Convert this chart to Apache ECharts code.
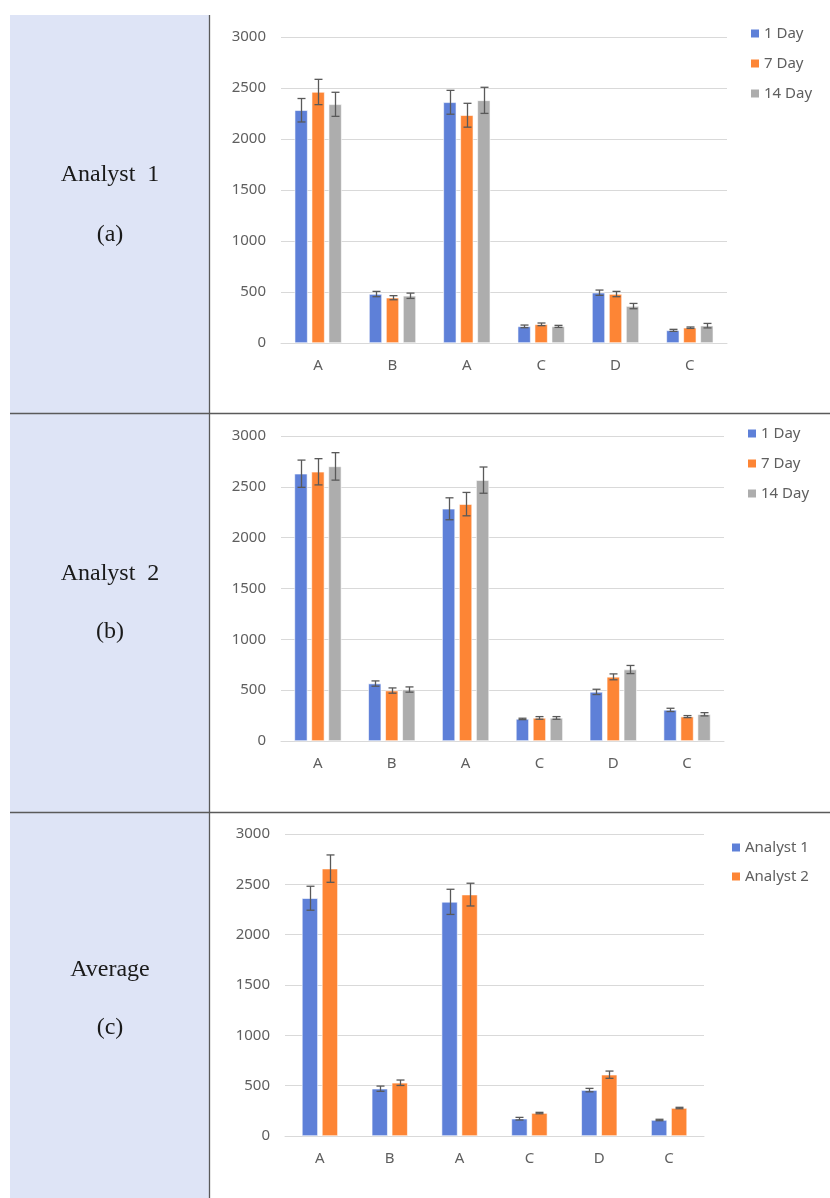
<!DOCTYPE html>
<html>
<head>
<meta charset="utf-8">
<script src="https://cdn.jsdelivr.net/npm/echarts@6/dist/echarts.min.js"></script>
<style>
html,body{margin:0;padding:0;background:#fff;}
#c{width:830px;height:1198px;}
</style>
</head>
<body>
<div id="c"></div>
<script>
const categories = ['A','B','A','C','D','C'];
const yTicks = [0, 500, 1000, 1500, 2000, 2500, 3000];

// Analyst 1
const a1Day1 = [2282, 480, 2360, 163, 493, 124];
const a1Day1Err = [115, 26, 117, 13, 26, 10];
const a1Day7 = [2461, 444, 2233, 183, 480, 150];
const a1Day7Err = [124, 20, 117, 13, 26, 7];
const a1Day14 = [2340, 463, 2379, 163, 362, 170];
const a1Day14Err = [118, 26, 128, 10, 26, 22];

// Analyst 2
const a2Day1 = [2629, 565, 2284, 217, 483, 306];
const a2Day1Err = [134, 26, 108, 7, 26, 16];
const a2Day7 = [2648, 496, 2330, 227, 631, 240];
const a2Day7Err = [129, 26, 115, 13, 29, 10];
const a2Day14 = [2701, 506, 2566, 227, 703, 263];
const a2Day14Err = [135, 26, 129, 13, 40, 16];

// Average
const avgAnalyst1 = [2362, 470, 2326, 172, 456, 159];
const avgAnalyst1Err = [119, 26, 125, 13, 17, 7];
const avgAnalyst2 = [2656, 529, 2398, 228, 609, 278];
const avgAnalyst2Err = [136, 27, 113, 7, 36, 7];

const dayNames = ['1 Day', '7 Day', '14 Day'];
const avgNames = ['Analyst 1', 'Analyst 2'];
const panelTitles = [['Analyst  1', '(a)'], ['Analyst  2', '(b)'], ['Average', '(c)']];

const COLORS = ['#5e80d8', '#fd8535', '#adadad'];
const ERR_COLOR = '#595959';
const LABEL_COLOR = '#5f5f5f';

const chart = echarts.init(document.getElementById('c'), null, {renderer: 'canvas'});

const panels = [
  {grid: {left: 281, top: 37, width: 446, height: 306}, names: dayNames,
   vals: [a1Day1, a1Day7, a1Day14], errs: [a1Day1Err, a1Day7Err, a1Day14Err],
   barW: 13, gap: 4, legend: {left: 744, top: 21}, itemGap: 15},
  {grid: {left: 281, top: 436, width: 443, height: 305}, names: dayNames,
   vals: [a2Day1, a2Day7, a2Day14], errs: [a2Day1Err, a2Day7Err, a2Day14Err],
   barW: 13, gap: 4, legend: {left: 741, top: 421}, itemGap: 15},
  {grid: {left: 285, top: 834, width: 419, height: 302}, names: avgNames,
   vals: [avgAnalyst1, avgAnalyst2], errs: [avgAnalyst1Err, avgAnalyst2Err],
   barW: 16, gap: 4, legend: {left: 725, top: 835}, itemGap: 14}
];

const grids = [], xAxes = [], yAxes = [], series = [], legends = [];
panels.forEach((p, gi) => {
  grids.push(Object.assign({containLabel: false}, p.grid));
  xAxes.push({
    type: 'category', gridIndex: gi, data: categories,
    axisLine: {show: true, lineStyle: {color: '#d9d9d9', width: 1}},
    axisTick: {show: false},
    axisLabel: {color: LABEL_COLOR, fontSize: 15, fontFamily: 'Noto Sans', margin: 15}
  });
  yAxes.push({
    type: 'value', gridIndex: gi, min: yTicks[0], max: yTicks[yTicks.length - 1],
    interval: yTicks[1] - yTicks[0],
    axisLine: {show: false}, axisTick: {show: false},
    splitLine: {lineStyle: {color: '#d9d9d9', width: 1}},
    axisLabel: {color: LABEL_COLOR, fontSize: 15, fontFamily: 'Noto Sans', margin: 15,
      formatter: v => String(v)}
  });
  const n = p.vals.length;
  const total = n * p.barW + (n - 1) * p.gap;
  p.vals.forEach((vals, si) => {
    series.push({
      type: 'bar', name: p.names[si], xAxisIndex: gi, yAxisIndex: gi,
      data: vals, barWidth: p.barW, barGap: (p.gap / p.barW * 100) + '%',
      itemStyle: {color: COLORS[si], borderColor: '#ffffff', borderWidth: 0.6},
      emphasis: {disabled: true}, z: 2
    });
  });
  p.vals.forEach((vals, si) => {
    const offset = -total / 2 + p.barW / 2 + si * (p.barW + p.gap);
    series.push({
      type: 'custom', name: p.names[si] + ' err', xAxisIndex: gi, yAxisIndex: gi,
      data: vals.map((v, i) => [i, v, p.errs[si][i]]),
      encode: {x: 0, y: 1}, z: 5, silent: true,
      renderItem: function (params, api) {
        const x = api.value(0), v = api.value(1), e = api.value(2);
        const t = api.coord([x, v + e]);
        const b = api.coord([x, v - e]);
        const cx = Math.round(t[0] + offset) + 0.5;
        const cap = 4;
        const st = {stroke: ERR_COLOR, lineWidth: 1.3};
        return {type: 'group', children: [
          {type: 'line', shape: {x1: cx, y1: t[1], x2: cx, y2: b[1]}, style: st},
          {type: 'line', shape: {x1: cx - cap, y1: t[1], x2: cx + cap, y2: t[1]}, style: st},
          {type: 'line', shape: {x1: cx - cap, y1: b[1], x2: cx + cap, y2: b[1]}, style: st}
        ]};
      }
    });
  });
  legends.push({
    left: p.legend.left, top: p.legend.top, orient: 'vertical',
    data: p.names, icon: 'rect', itemWidth: 10, itemHeight: 10, itemGap: p.itemGap,
    selectedMode: false,
    textStyle: {color: LABEL_COLOR, fontSize: 15, fontFamily: 'Noto Sans', padding: [0, 0, 0, -1]}
  });
});

// table decoration
const graphics = [
  {type: 'rect', shape: {x: 10, y: 15, width: 199, height: 1183}, style: {fill: '#dee4f6'}, z: -10},
  {type: 'line', shape: {x1: 209.5, y1: 15, x2: 209.5, y2: 1198}, style: {stroke: '#5a5a5a', lineWidth: 1.3}, z: -5},
  {type: 'line', shape: {x1: 10, y1: 413.5, x2: 830, y2: 413.5}, style: {stroke: '#5a5a5a', lineWidth: 1.3}, z: -5},
  {type: 'line', shape: {x1: 10, y1: 812.5, x2: 830, y2: 812.5}, style: {stroke: '#5a5a5a', lineWidth: 1.3}, z: -5}
];
const titleY = [[175, 235], [574, 632], [970, 1028]];
panelTitles.forEach((pt, i) => {
  pt.forEach((txt, j) => {
    graphics.push({
      type: 'text', x: 110, y: titleY[i][j],
      style: {text: txt, fill: '#1a1a1a', font: '24px "Liberation Serif"', align: 'center', verticalAlign: 'middle'},
      z: 1
    });
  });
});

chart.setOption({
  animation: false,
  grid: grids, xAxis: xAxes, yAxis: yAxes, series: series, legend: legends,
  graphic: graphics
});
</script>
</body>
</html>
